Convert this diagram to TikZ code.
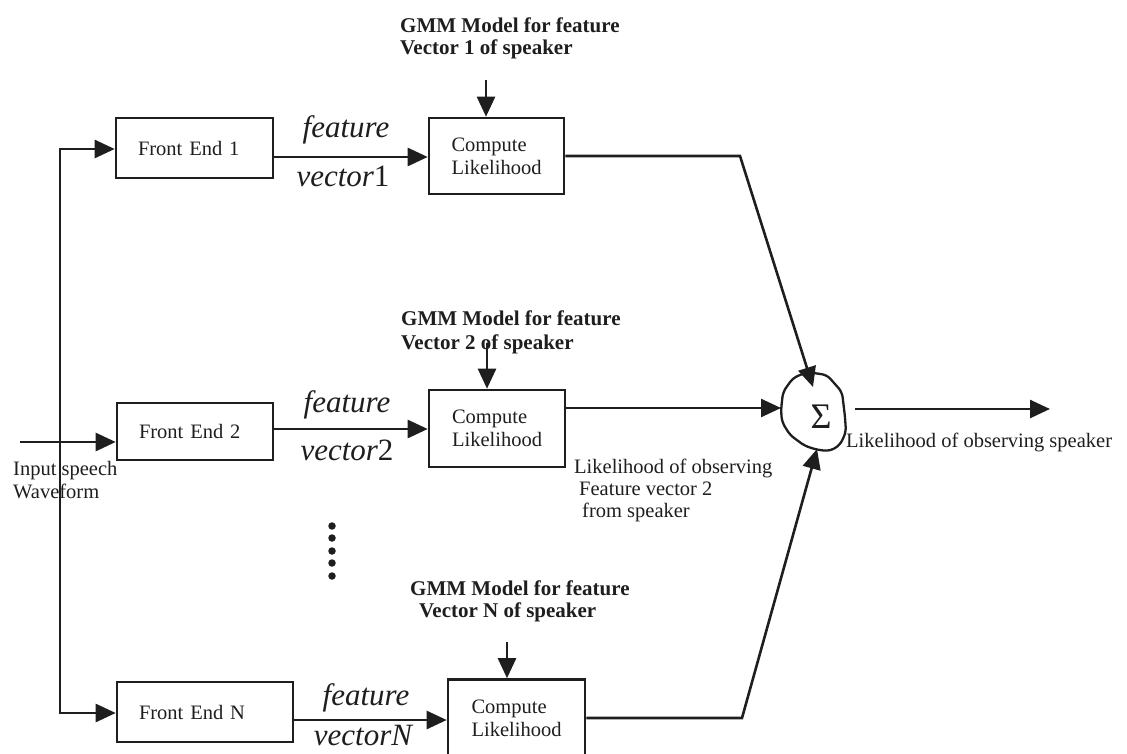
\documentclass[tikz,border=0pt]{standalone}
\usepackage{fontspec}
\setmainfont{Liberation Serif}
\usetikzlibrary{arrows.meta,calc}
\definecolor{ink}{RGB}{30,30,30}
\newcommand\myfs[2]{\fontsize{#1}{#2}\selectfont}
\begin{document}
\begin{tikzpicture}[x=1pt,y=-1pt,
  line/.style={draw=ink,line width=2.6pt},
  arr/.style={line,-{Triangle[length=20pt,width=18pt]}},
  febox/.style={draw=ink,line width=2.6pt,inner xsep=22pt,inner ysep=0pt,
    align=left,text=ink,font=\myfs{20.5}{23}},
  clbox/.style={draw=ink,line width=2.6pt,inner sep=0pt,minimum width=136pt,
    minimum height=77pt,align=left,text=ink,font=\myfs{20.5}{23}},
  lbl/.style={inner sep=0pt,anchor=base west,text=ink,font=\myfs{20.5}{23}},
  gmm/.style={inner sep=0pt,anchor=base west,text=ink,font=\myfs{21}{24}\bfseries},
  feat/.style={inner sep=0pt,anchor=base,text=ink,font=\myfs{31}{34}\itshape},
  dot/.style={circle,fill=ink,inner sep=0pt,minimum size=7.5pt}]
\useasboundingbox (0,0) rectangle (1127,754);

% front ends
\node[febox,text width=113pt,minimum height=60pt] (fe1) at (194.5,148) {Front End 1};
\node[febox,text width=112pt,minimum height=57pt] (fe2) at (195,431.5) {Front End 2};
\node[febox,text width=132pt,minimum height=60pt] (feN) at (205,712) {Front End N};

% likelihood blocks
\node[clbox,minimum width=135pt,minimum height=76pt] (cl1) at (496.5,156) {Compute\\Likelihood};
\node[clbox] (cl2) at (497,428.5) {Compute\\Likelihood};
\node[clbox,minimum width=137pt] (clN) at (516.5,718) {Compute\\Likelihood};

% GMM model labels
\node[gmm] (g1a) at (400,33) {GMM Model for feature};
\node[gmm] (g1b) at (400,55) {Vector 1 of speaker};
\node[gmm] (g2a) at (401,325) {GMM Model for feature};
\node[gmm] (g2b) at (401,349) {Vector 2 of speaker};
\node[gmm] (gNa) at (410,595) {GMM Model for feature};
\node[gmm] (gNb) at (419,617) {Vector N of speaker};

% feature vector labels
\node[feat] (f1a) at (346,138) {feature};
\node[feat] (f1b) at (343,187) {vector\upshape 1};
\node[feat] (f2a) at (347,412) {feature};
\node[feat] (f2b) at (347,460) {vector\upshape 2};
\node[feat] (fNa) at (366,705) {feature};
\node[feat] (fNb) at (363,745) {vectorN};

% other labels
\node[lbl] (in1) at (13,475) {Input speech};
\node[lbl] (in2) at (13,498) {Waveform};
\node[lbl] (lo1) at (574,473) {Likelihood of observing};
\node[lbl] (lo2) at (579,495) {Feature vector 2};
\node[lbl] (lo3) at (582,517) {from speaker};
\node[lbl] (los) at (846,447) {Likelihood of observing speaker};

% summation block
\node[inner sep=0pt,anchor=base,text=ink,font=\myfs{36}{40}] (sum) at (821,428) {Σ};
\draw[ink,line width=2.3pt,rounded corners=5pt]
  (781,410) -- (783,392) -- (793,378) -- (807,372) -- (827,375) -- (842,392)
  -- (845,417) -- (846,432) -- (840,445) -- (830,451) -- (818,450) -- (805,446)
  -- (790,435) -- (782,422) -- cycle;
\coordinate (sumN) at (813,387);
\coordinate (sumW) at (781,408);
\coordinate (sumS) at (817,449);
\coordinate (sumE) at (855,409);
\coordinate (out) at (1050,409);

% input bus
\coordinate (busT) at (60,149);
\coordinate (busB) at (60,713);
\coordinate (inp) at (20,442);
\draw[arr] (busB) -- (busT) -- (busT -| fe1.west);
\draw[arr] ($(busB)+(0,-6)$) -- (busB) -- (busB -| feN.west);
\draw[arr] (inp) -- (inp -| fe2.west);

% feature vectors
\coordinate (r1) at (0,157);
\coordinate (r2) at (0,429);
\coordinate (rN) at (0,720);
\draw[arr] (fe1.east |- r1) -- (cl1.west |- r1);
\draw[arr] (fe2.east |- r2) -- (cl2.west |- r2);
\draw[arr] (feN.east |- rN) -- (clN.west |- rN);

% GMM model inputs
\coordinate (m1) at (486,80);
\coordinate (m2) at (487,343);
\coordinate (mN) at (507,642);
\draw[arr] (m1) -- (m1 |- cl1.north);
\draw[arr] (m2) -- (m2 |- cl2.north);
\draw[arr] (mN) -- (mN |- clN.north);

% likelihoods into the sum
\coordinate (k1) at (740,156);
\coordinate (k2) at (0,408);
\coordinate (kN) at (742,718);
\draw[arr] (cl1.east |- k1) -- (k1) -- (sumN);
\draw[arr] (cl2.east |- k2) -- (sumW);
\draw[arr] (clN.east |- kN) -- (kN) -- (sumS);
\draw[arr] (sumE) -- (out);

% ellipsis between branches
\foreach \yy [count=\i] in {526,538,551,563,576}
  \node[dot] (d\i) at (332,\yy) {};
\end{tikzpicture}
\end{document}
